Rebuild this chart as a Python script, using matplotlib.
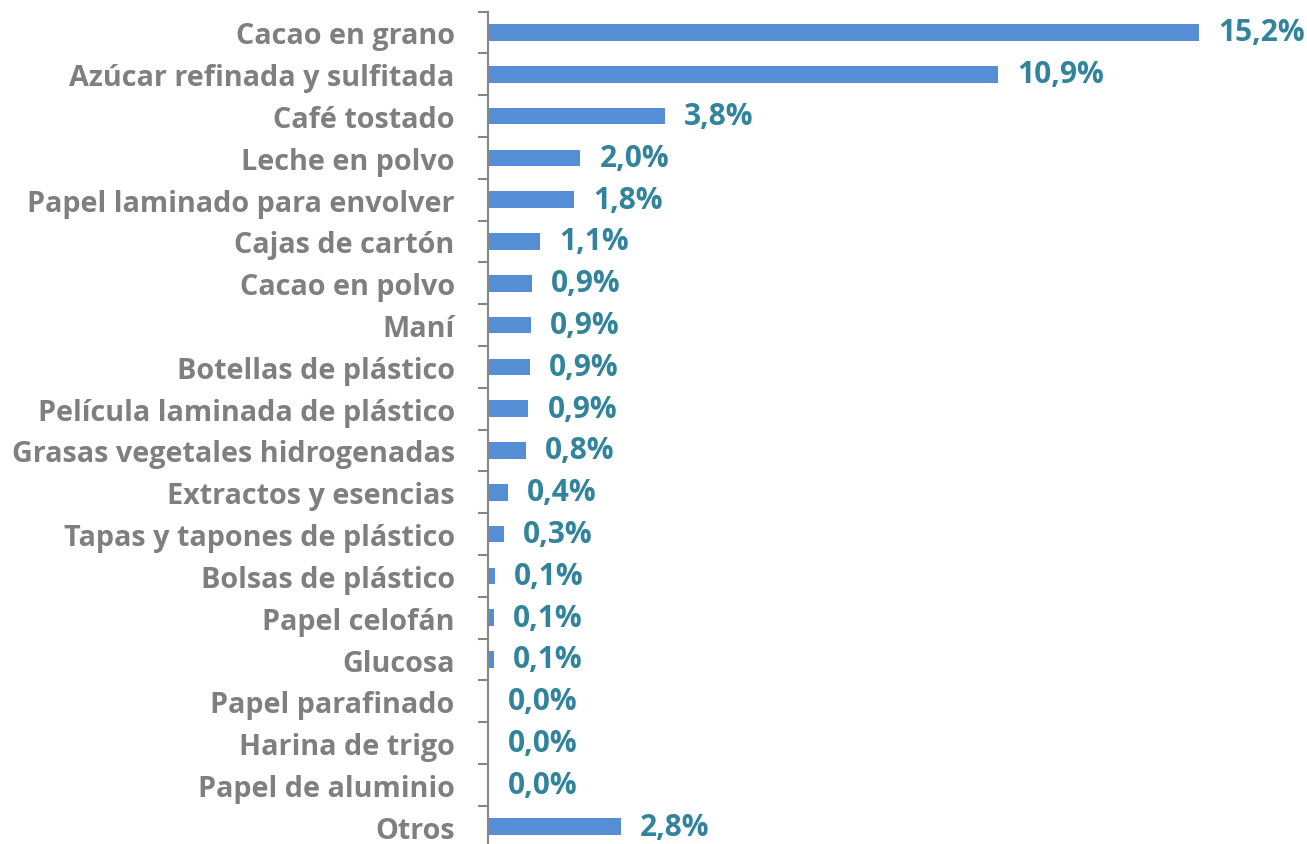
import numpy as np
import matplotlib.pyplot as plt

categories = ["Cacao en grano", "Azúcar refinada y sulfitada", "Café tostado", "Leche en polvo",
              "Papel laminado para envolver", "Cajas de cartón", "Cacao en polvo", "Maní",
              "Botellas de plástico", "Película laminada de plástico", "Grasas vegetales hidrogenadas",
              "Extractos y esencias", "Tapas y tapones de plástico", "Bolsas de plástico",
              "Papel celofán", "Glucosa", "Papel parafinado", "Harina de trigo",
              "Papel de aluminio", "Otros"]
shares = [15.2, 10.9, 3.78, 1.97, 1.84, 1.11, 0.93, 0.92, 0.90, 0.86, 0.81,
          0.43, 0.34, 0.14, 0.13, 0.12, 0.02, 0.01, 0.01, 2.84]

plt.rcParams['font.family'] = ['Open Sans', 'DejaVu Sans']

fig = plt.figure(figsize=(13.07, 8.45), dpi=100)
# plot area runs a few pixels past the bottom edge, as in the reference
ax = fig.add_axes([488 / 1307, -3.6 / 845, 1 - 488 / 1307, 836 / 845])

n = len(categories)
y = np.arange(n)
ax.barh(y, shares, height=0.4, color="#558ED5")
ax.set_ylim(n - 0.5, -0.5)
ax.set_xlim(0, 819 / 46.8)

for yi, v in zip(y, shares):
    txt = ("%.1f%%" % v).replace(".", ",")
    ax.text(v + 0.41, yi, txt, va="center", ha="left", fontsize=21.5,
            fontweight="bold", color="#31849B", clip_on=False)

ax.set_yticks(y)
ax.set_yticklabels(categories, fontsize=20.7, fontweight="bold", color="#7F7F7F")
ax.set_yticks(np.arange(n + 1) - 0.5, minor=True)
ax.tick_params(axis="y", which="major", length=0, pad=24)
ax.tick_params(axis="y", which="minor", length=7, width=1.5, color="#868686")
ax.set_xticks([])
for s in ["top", "right", "bottom"]:
    ax.spines[s].set_visible(False)
ax.spines["left"].set_color("#868686")
ax.spines["left"].set_linewidth(1.5)

fig.savefig("out.png", dpi=100)
